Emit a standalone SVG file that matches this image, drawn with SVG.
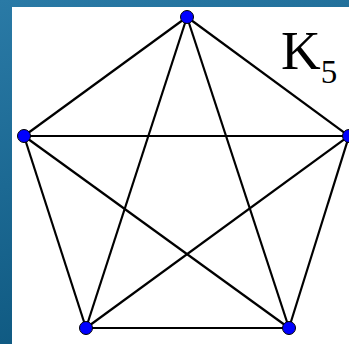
<svg xmlns="http://www.w3.org/2000/svg" width="349" height="344" viewBox="0 0 349 344">
<defs>
<linearGradient id="bg" x1="0" y1="0" x2="0.3" y2="1">
<stop offset="0" stop-color="#2a7aa6"/>
<stop offset="1" stop-color="#0e5880"/>
</linearGradient>
</defs>
<style>
.e{stroke:#000;stroke-width:2.2;fill:none}
.n{fill:#0000ff;stroke:#000;stroke-width:1}
.t{font-family:"Liberation Serif",serif;fill:#000}
</style>
<rect x="0" y="0" width="349" height="344" fill="url(#bg)"/>
<rect x="12" y="7" width="337" height="337" fill="#fff"/>
<g id="edges">
<line class="e" x1="187" y1="17" x2="24" y2="136"/>
<line class="e" x1="187" y1="17" x2="349" y2="136"/>
<line class="e" x1="187" y1="17" x2="86" y2="328"/>
<line class="e" x1="187" y1="17" x2="289" y2="328"/>
<line class="e" x1="24" y1="136" x2="349" y2="136"/>
<line class="e" x1="24" y1="136" x2="86" y2="328"/>
<line class="e" x1="24" y1="136" x2="289" y2="328"/>
<line class="e" x1="349" y1="136" x2="86" y2="328"/>
<line class="e" x1="349" y1="136" x2="289" y2="328"/>
<line class="e" x1="86" y1="328" x2="289" y2="328"/>
</g>
<g id="v1"><circle class="n" cx="187" cy="17" r="6.5"/></g>
<g id="v2"><circle class="n" cx="24" cy="136" r="6.5"/></g>
<g id="v3"><circle class="n" cx="349" cy="136" r="6.5"/></g>
<g id="v4"><circle class="n" cx="86" cy="328" r="6.5"/></g>
<g id="v5"><circle class="n" cx="289" cy="328" r="6.5"/></g>
<g id="label"><text class="t" x="281" y="69" font-size="55">K<tspan font-size="33" dy="14">5</tspan></text></g>
</svg>
